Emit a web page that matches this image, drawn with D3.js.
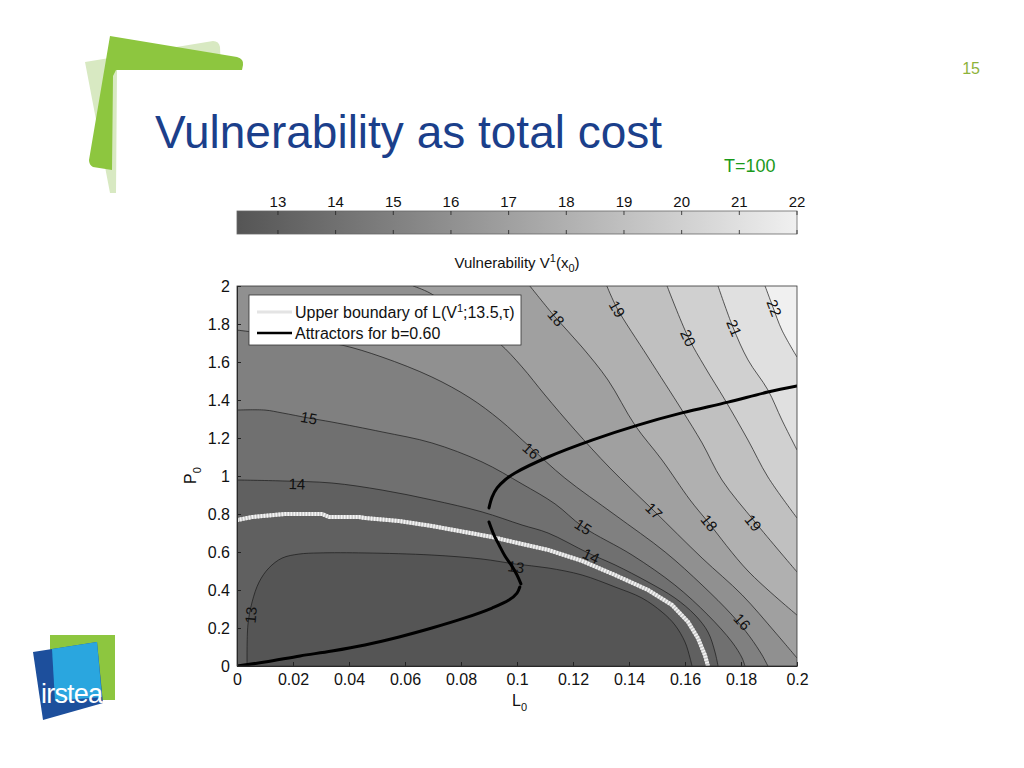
<!DOCTYPE html>
<html><head><meta charset="utf-8">
<script src="https://cdn.jsdelivr.net/npm/d3@7"></script>
<style>body{margin:0;background:#fff;} svg{display:block;font-family:"Liberation Sans",Arial,sans-serif;}</style>
</head><body>
<svg id="chart" width="1024" height="768"></svg>
<script>
// ---------- data ----------
const xTicks = [0,0.02,0.04,0.06,0.08,0.1,0.12,0.14,0.16,0.18,0.2];
const xTickLabels = ["0","0.02","0.04","0.06","0.08","0.1","0.12","0.14","0.16","0.18","0.2"];
const yTicks = [0,0.2,0.4,0.6,0.8,1,1.2,1.4,1.6,1.8,2];
const yTickLabels = ["0","0.2","0.4","0.6","0.8","1","1.2","1.4","1.6","1.8","2"];
const levels = [13,14,15,16,17,18,19,20,21,22];
const cbarTickLabels = ["13","14","15","16","17","18","19","20","21","22"];
const vMin = 12.29, vMax = 22;

const contour13 = [[0.0036,0],[0.0039,0.216],[0.0054,0.337],[0.0079,0.442],[0.0114,0.516],[0.0161,0.568],[0.0221,0.589],[0.0293,0.595],[0.0457,0.595],[0.0696,0.584],[0.0875,0.563],[0.0993,0.537],[0.1111,0.516],[0.1232,0.479],[0.135,0.416],[0.1446,0.358],[0.1518,0.284],[0.1564,0.216],[0.16,0.126],[0.1618,0.042],[0.1625,0]];
const contour14 = [[0,0.979],[0.0161,0.974],[0.0339,0.963],[0.0518,0.926],[0.0696,0.874],[0.0875,0.811],[0.1018,0.742],[0.1111,0.7],[0.1254,0.595],[0.135,0.532],[0.1468,0.442],[0.1564,0.358],[0.1636,0.268],[0.1682,0.179],[0.1707,0.074],[0.1718,0]];
const contour15 = [[0,1.347],[0.01,1.347],[0.0161,1.332],[0.0257,1.305],[0.0339,1.284],[0.0518,1.232],[0.0696,1.174],[0.0875,1.074],[0.1018,0.958],[0.1136,0.853],[0.1236,0.732],[0.1411,0.584],[0.1564,0.426],[0.1682,0.268],[0.1768,0.126],[0.1804,0.042],[0.1814,0]];
const contour16 = [[0,1.768],[0.0082,1.753],[0.0225,1.726],[0.0375,1.689],[0.0518,1.626],[0.0696,1.521],[0.0832,1.411],[0.0939,1.295],[0.1046,1.153],[0.1171,0.989],[0.135,0.795],[0.1529,0.6],[0.1661,0.426],[0.1768,0.268],[0.1832,0.153],[0.1875,0.058],[0.1896,0]];
const contour17 = [[0.0629,2],[0.0689,1.963],[0.0814,1.832],[0.0936,1.7],[0.1018,1.574],[0.11,1.426],[0.1207,1.242],[0.1332,1.042],[0.1486,0.821],[0.1661,0.568],[0.1804,0.374],[0.1921,0.179],[0.2,0.042]];
const contour18 = [[0.1046,2],[0.1136,1.837],[0.1232,1.679],[0.1325,1.505],[0.1421,1.268],[0.1518,1.084],[0.1618,0.874],[0.1682,0.758],[0.1825,0.5],[0.2,0.268]];
const contour19 = [[0.1321,2],[0.1357,1.884],[0.1468,1.626],[0.1589,1.347],[0.1661,1.174],[0.1732,0.979],[0.185,0.758],[0.2,0.495]];
const contour20 = [[0.1536,2],[0.1611,1.732],[0.1671,1.574],[0.1743,1.4],[0.1825,1.189],[0.1896,0.995],[0.2,0.779]];
const contour21 = [[0.1718,2],[0.1771,1.784],[0.1825,1.611],[0.1896,1.453],[0.1946,1.295],[0.2,1.137]];
const contour22 = [[0.1886,2],[0.1914,1.889],[0.1946,1.768],[0.2,1.626]];
const contourLines = [contour13,contour14,contour15,contour16,contour17,contour18,contour19,contour20,contour21,contour22];

// contour labels: [level, L, P]
const contourLabels = [[13,0.005,0.268],[13,0.0996,0.521],[14,0.0214,0.958],[14,0.1264,0.579],[15,0.0257,1.305],[15,0.1236,0.732],[16,0.105,1.132],[16,0.1804,0.232],[17,0.1489,0.816],[18,0.1139,1.832],[18,0.1686,0.753],[19,0.1357,1.879],[19,0.1843,0.753],[20,0.1611,1.726],[21,0.1775,1.779],[22,0.1918,1.884]];

// upper boundary of L(V1;13.5,tau)
const upperBoundary = [[0,0.768],[0.0054,0.784],[0.0171,0.8],[0.0304,0.8],[0.0329,0.784],[0.0436,0.784],[0.0457,0.779],[0.0579,0.763],[0.0696,0.737],[0.0814,0.705],[0.0911,0.679],[0.1018,0.642],[0.1111,0.611],[0.1232,0.553],[0.135,0.479],[0.1468,0.4],[0.1554,0.321],[0.1611,0.232],[0.1646,0.147],[0.1671,0.058],[0.1682,0]];
// attractors for b=0.60 (three branches)
const attractorLow = [[0,0],[0.01,0.021],[0.0225,0.053],[0.0339,0.079],[0.0457,0.111],[0.0579,0.153],[0.0696,0.2],[0.0814,0.253],[0.0911,0.305],[0.0971,0.347],[0.1,0.384],[0.101,0.416]];
const attractorMid = [[0.09,0.758],[0.0918,0.689],[0.0936,0.637],[0.0957,0.579],[0.0979,0.532],[0.1,0.479],[0.1014,0.432]];
const attractorUp = [[0.09,0.832],[0.0911,0.889],[0.0929,0.937],[0.0957,0.979],[0.0993,1.016],[0.1111,1.1],[0.1268,1.189],[0.1432,1.268],[0.1589,1.332],[0.1754,1.389],[0.1896,1.442],[0.2,1.474]];

// ---------- drawing ----------
const svg = d3.select("#chart");
const x = d3.scaleLinear().domain([0,0.2]).range([237,797]);
const y = d3.scaleLinear().domain([0,2]).range([666,286]);
const color = d3.scaleLinear().domain([vMin,vMax]).range(["#555555","#f0f0f0"]);
const cx = d3.scaleLinear().domain([vMin,vMax]).range([237,797]);

// slide decoration
svg.append("path").attr("d","M85,62 L213,41 Q219,41 220,47 L221,70 L117,70 L116,193 L110,193 Z").attr("fill","#d8e9c2");
svg.append("path").attr("d","M110,36 L237,57 Q244,59 243,65 L242,70 L116,70 L113,76 L112,170 L93,167 Q89,165 89,160 Z").attr("fill","#8dc63f");
svg.append("text").attr("x",155).attr("y",148).attr("font-size",46).attr("fill","#1b3f8b").text("Vulnerability as total cost");
svg.append("text").attr("x",980).attr("y",74).attr("text-anchor","end").attr("font-size",16).attr("fill","#8db33a").text("15");
svg.append("text").attr("x",724).attr("y",172).attr("font-size",18).attr("fill","#1a9a1a").text("T=100");
// logo
svg.append("rect").attr("x",50).attr("y",635).attr("width",65).attr("height",65).attr("fill","#8dc63f");
svg.append("path").attr("d","M33,652 L97,642 L103,703 L43,720 Z").attr("fill","#1d4f9c");
svg.append("path").attr("d","M52,649 L97,642 L102,697 L55,701 Z").attr("fill","#2aa6df");
svg.append("text").attr("x",41).attr("y",703).attr("font-size",27).attr("fill","#fff").attr("letter-spacing","-0.8").text("irstea");

// colorbar
const defs = svg.append("defs");
const grad = defs.append("linearGradient").attr("id","cbar").attr("x1","0%").attr("x2","100%");
[vMin].concat(levels).forEach(v=>{
  grad.append("stop").attr("offset",((cx(v)-237)/560*100)+"%").attr("stop-color",color(v));
});
svg.append("rect").attr("x",237).attr("y",211).attr("width",560).attr("height",23).attr("fill","url(#cbar)").attr("stroke","#666").attr("stroke-width",0.8);
levels.forEach((v,i)=>{
  svg.append("line").attr("x1",cx(v)).attr("x2",cx(v)).attr("y1",211).attr("y2",215).attr("stroke","#222").attr("stroke-width",0.8);
  svg.append("line").attr("x1",cx(v)).attr("x2",cx(v)).attr("y1",230).attr("y2",234).attr("stroke","#222").attr("stroke-width",0.8);
  svg.append("text").attr("x",cx(v)).attr("y",207).attr("text-anchor","middle").attr("font-size",15).attr("fill","#111").text(cbarTickLabels[i]);
});
const cl = svg.append("text").attr("x",517).attr("y",268).attr("text-anchor","middle").attr("font-size",15).attr("fill","#111");
cl.append("tspan").text("Vulnerability V");
cl.append("tspan").attr("dy",-6).attr("font-size",11).text("1");
cl.append("tspan").attr("dy",6).text("(x");
cl.append("tspan").attr("dy",4).attr("font-size",11).text("0");
cl.append("tspan").attr("dy",-4).text(")");

// plot area
defs.append("clipPath").attr("id","plotclip").append("rect").attr("x",237).attr("y",286).attr("width",560).attr("height",380);
const plot = svg.append("g").attr("clip-path","url(#plotclip)");
const curve = d3.line().x(d=>x(d[0])).y(d=>y(d[1])).curve(d3.curveCatmullRom.alpha(0.5));
plot.append("rect").attr("x",237).attr("y",286).attr("width",560).attr("height",380).attr("fill",color(levels[levels.length-1]));
for (let i = levels.length-1; i >= 0; i--) {
  const pts = contourLines[i];
  const start = pts[0], end = pts[pts.length-1];
  const corners = [];
  if (end[0] >= 0.2-1e-9) corners.push([0.2,0]);
  corners.push([0,0]);
  if (start[1] >= 2-1e-9) corners.push([0,2]);
  const d = curve(pts) + corners.map(c=>"L"+x(c[0])+","+y(c[1])).join("") + "Z";
  plot.append("path").attr("d",d).attr("fill",color(i===0 ? vMin : levels[i-1]));
}
contourLines.forEach(pts=>{
  plot.append("path").attr("d",curve(pts)).attr("fill","none").attr("stroke","#1a1a1a").attr("stroke-width",0.7);
});
// contour labels
contourLabels.forEach(([lev,L,P])=>{
  const pts = contourLines[levels.indexOf(lev)];
  let best=0, bd=1e9;
  pts.forEach((p,j)=>{const dd=(x(p[0])-x(L))**2+(y(p[1])-y(P))**2; if(dd<bd){bd=dd;best=j;}});
  const a = pts[Math.max(0,best-1)], b = pts[Math.min(pts.length-1,best+1)];
  let ang = Math.atan2(y(b[1])-y(a[1]), x(b[0])-x(a[0]))*180/Math.PI;
  if (ang>90) ang-=180; if (ang<-90) ang+=180;
  plot.append("text").attr("transform",`translate(${x(L)},${y(P)}) rotate(${ang})`).attr("text-anchor","middle").attr("dy","0.35em").attr("font-size",15).attr("fill","#111").text(lev);
});
// upper boundary (dotted light line)
const lin = d3.line().x(d=>x(d[0])).y(d=>y(d[1]));
plot.append("path").attr("d",lin(upperBoundary)).attr("fill","none").attr("stroke","#c8c8c8").attr("stroke-width",4);
plot.append("path").attr("d",lin(upperBoundary)).attr("fill","none").attr("stroke","#f4f4f4").attr("stroke-width",4).attr("stroke-dasharray","1.5,1.5");
// attractors
[attractorLow, attractorMid, attractorUp].forEach(pts=>{
  plot.append("path").attr("d",curve(pts)).attr("fill","none").attr("stroke","#000").attr("stroke-width",3).attr("stroke-linecap","round");
});

// axes
const xAxis = d3.axisBottom(x).tickValues(xTicks).tickFormat((d,i)=>xTickLabels[i]).tickSizeInner(-4).tickSizeOuter(0).tickPadding(8);
const yAxis = d3.axisLeft(y).tickValues(yTicks).tickFormat((d,i)=>yTickLabels[i]).tickSizeInner(-4).tickSizeOuter(0).tickPadding(7);
const gx = svg.append("g").attr("transform","translate(0,666)").call(xAxis);
const gy = svg.append("g").attr("transform","translate(237,0)").call(yAxis);
[gx,gy].forEach(g=>{
  g.selectAll("text").attr("font-size",16).attr("fill","#111").attr("font-family","Liberation Sans, Arial, sans-serif");
  g.selectAll("line").attr("stroke","#222");
  g.select(".domain").attr("stroke","#222");
});
svg.append("rect").attr("x",237).attr("y",286).attr("width",560).attr("height",380).attr("fill","none").attr("stroke","#333").attr("stroke-width",0.8);
const xl = svg.append("text").attr("x",512).attr("y",706).attr("font-size",16).attr("fill","#111");
xl.append("tspan").text("L"); xl.append("tspan").attr("dy",5).attr("font-size",11).text("0");
const yl = svg.append("text").attr("transform","translate(196,484) rotate(-90)").attr("font-size",16).attr("fill","#111");
yl.append("tspan").text("P"); yl.append("tspan").attr("dy",5).attr("font-size",11).text("0");

// legend
svg.append("rect").attr("x",249).attr("y",295).attr("width",272).attr("height",50).attr("fill","#fff").attr("stroke","#333").attr("stroke-width",0.8);
svg.append("line").attr("x1",257).attr("x2",292).attr("y1",312).attr("y2",312).attr("stroke","#e4e4e4").attr("stroke-width",3);
svg.append("line").attr("x1",257).attr("x2",292).attr("y1",333).attr("y2",333).attr("stroke","#000").attr("stroke-width",2.5);
const lt = svg.append("text").attr("x",295).attr("y",318).attr("font-size",16).attr("fill","#111");
lt.append("tspan").text("Upper boundary of L(V");
lt.append("tspan").attr("dy",-6).attr("font-size",11).text("1");
lt.append("tspan").attr("dy",6).text(";13.5,\u03c4)");
svg.append("text").attr("x",295).attr("y",339).attr("font-size",16).attr("fill","#111").text("Attractors for b=0.60");
</script>
</body></html>
